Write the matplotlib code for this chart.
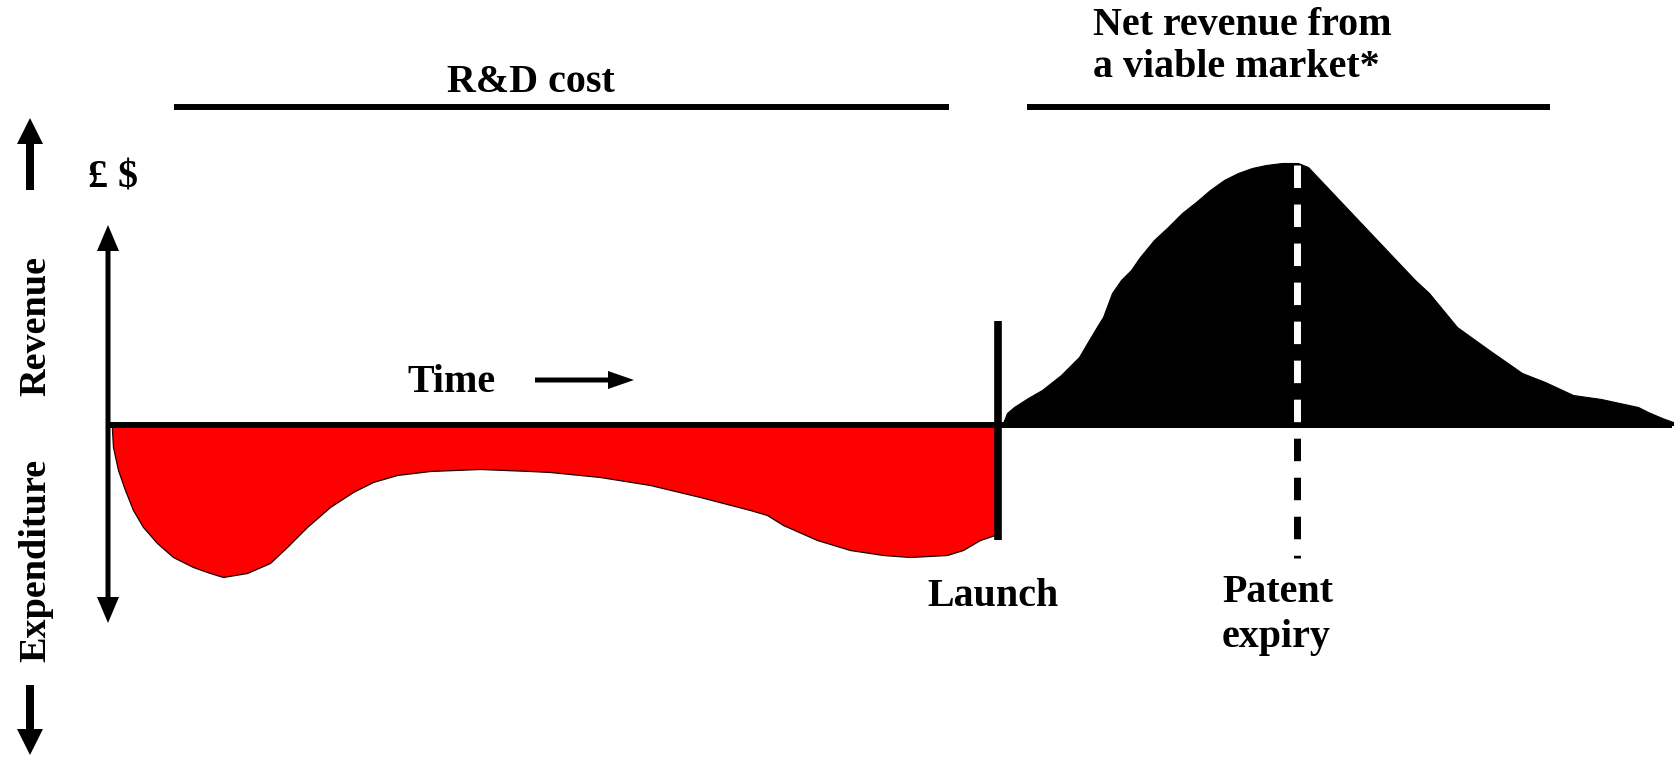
import numpy as np
import matplotlib.pyplot as plt

plt.rcParams['font.family'] = ['Liberation Serif', 'DejaVu Serif']
plt.rcParams['font.weight'] = 'bold'
plt.rcParams['lines.scale_dashes'] = False

# R&D spend (negative cash flow) up to launch
rd_time = [112, 113, 118, 125, 133, 143, 157, 173, 193, 210, 223, 247, 270, 287,
           307, 330, 353, 373, 397, 430, 480, 530, 550, 600, 650, 700, 750, 767,
           783, 817, 850, 883, 910, 947, 963, 980, 998]
rd_value = [-5, -22, -45, -65, -85, -102, -118, -132, -142, -148, -152, -148, -138, -122,
            -102, -82, -67, -57, -50, -46, -44, -46, -47, -52, -60, -72, -85, -90,
            -100, -115, -125, -130, -132, -130, -125, -115, -109]

# net revenue after launch
rev_time = [998, 1003, 1007, 1014, 1028, 1042, 1061, 1079, 1089, 1098, 1103, 1112,
            1121, 1131, 1140, 1154, 1168, 1182, 1196, 1210, 1224, 1238, 1252, 1266,
            1282, 1298, 1308, 1396, 1415, 1429, 1443, 1457, 1489, 1522, 1545, 1573,
            1601, 1638, 1648, 1662, 1673]
rev_value = [0, 2, 12, 18, 27, 35, 50, 68, 85, 100, 108, 132,
             145, 155, 168, 185, 198, 212, 223, 235, 245, 252, 257, 260,
             262, 262, 258, 165, 145, 132, 115, 98, 75, 52, 43, 30,
             26, 18, 13, 7, 3]

launch_t = 998
patent_t = 1297

fig = plt.figure(figsize=(16.78, 7.58), dpi=100)
ax = fig.add_axes([0, 0, 1, 1])
ax.set_xlim(0, 1678)
ax.set_ylim(-333, 425)
ax.axis('off')

# filled areas
ax.fill_between(rd_time, rd_value, 0, facecolor='#ff0000', edgecolor='#200000', linewidth=0.9)
rev_fill = ax.fill_between(rev_time, rev_value, 0, facecolor='black', edgecolor='black', linewidth=0.8)

# time axis and launch marker
ax.plot([108, 1672], [0, 0], color='black', lw=4.3, solid_capstyle='butt')
ax.plot([launch_t, launch_t], [104, -115], color='black', lw=5.5, solid_capstyle='butt')

# patent expiry: black dashes, white where they cross the revenue area
dash = (0, (16.2, 11.9))
ax.plot([patent_t, patent_t], [260, -133], color='black', lw=5,
        linestyle=dash, dash_capstyle='butt')
wline, = ax.plot([patent_t, patent_t], [260, -133], color='white', lw=5,
                 linestyle=dash, dash_capstyle='butt')
wline.set_clip_path(rev_fill.get_paths()[0], ax.transData)

# headers with rules
ax.plot([174, 949], [318, 318], color='black', lw=4.3, solid_capstyle='butt')
ax.plot([1027, 1550], [318, 318], color='black', lw=4.3, solid_capstyle='butt')

arrow_kw = dict(color='black', length_includes_head=True, linewidth=0)
# money axis
ax.arrow(108, 0, 0, 200, width=5, head_width=22, head_length=26, **arrow_kw)
ax.arrow(108, 0, 0, -198, width=5, head_width=22, head_length=26, **arrow_kw)
# outer direction arrows
ax.arrow(30, 235, 0, 72, width=8, head_width=26, head_length=26, **arrow_kw)
ax.arrow(30, -260, 0, -70, width=8, head_width=26, head_length=26, **arrow_kw)
# time arrow
ax.arrow(535, 45, 99, 0, width=5, head_width=18, head_length=26, **arrow_kw)

fs = 28.8
ax.text(531, 333, 'R&D cost', fontsize=fs, ha='center', va='baseline')
ax.text(1093, 390, 'Net revenue from', fontsize=fs, ha='left', va='baseline')
ax.text(1093, 348, 'a viable market*', fontsize=fs, ha='left', va='baseline')
ax.text(451, 33, 'Time', fontsize=fs, ha='center', va='baseline')
ax.text(993, -181, 'Launch', fontsize=fs, ha='center', va='baseline')
ax.text(1222, -177, 'Patent', fontsize=fs, ha='left', va='baseline')
ax.text(1222, -222, 'expiry', fontsize=fs, ha='left', va='baseline')
ax.text(88, 237, '£ $', fontsize=fs, ha='left', va='baseline')
ax.text(45, 99, 'Revenue', fontsize=27.5, rotation=90, rotation_mode='anchor',
        ha='center', va='baseline')
ax.text(45, -135, 'Expenditure', fontsize=27.5, rotation=90, rotation_mode='anchor',
        ha='center', va='baseline')

fig.savefig('out.png', dpi=100)
